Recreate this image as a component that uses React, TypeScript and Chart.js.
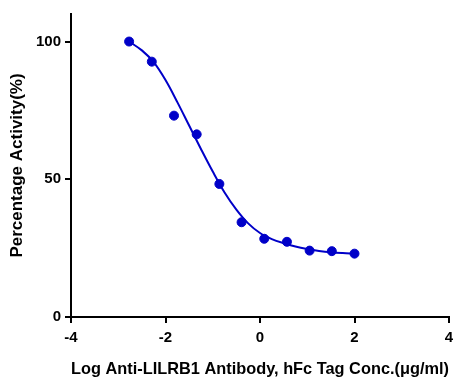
import React, { useEffect, useRef } from "react";
import { Chart, registerables } from "chart.js";

Chart.register(...registerables);

// Log concentration (3-fold dilutions)
const logConc = [-2.77, -2.29, -1.82, -1.34, -0.86, -0.39, 0.09, 0.57, 1.05, 1.52, 2.0];
const activity = [100, 92.7, 73.1, 66.3, 48.3, 34.4, 28.4, 27.3, 24.1, 23.9, 23.0];

// Fitted curve
const curveX = [-2.77, -2.5, -2.25, -2.0, -1.75, -1.5, -1.25, -1.0, -0.75, -0.5, -0.25, 0, 0.25, 0.5, 0.75, 1.0, 1.25, 1.5, 1.75, 2.0];
const curveY = [100, 96.8, 92.5, 86, 78, 69.5, 61, 52.8, 45.2, 39, 34, 30.5, 28.3, 26.8, 25.6, 24.7, 24.0, 23.5, 23.2, 23.0];

const xTicks = [-4, -2, 0, 2, 4];
const yTicks = [0, 50, 100];

const BLUE = "#0000C8";
const FONT = "'Liberation Sans', Arial, sans-serif";

export default function App() {
  const ref = useRef<HTMLCanvasElement | null>(null);

  useEffect(() => {
    if (!ref.current) return;
    const chart = new Chart(ref.current, {
      type: "scatter",
      data: {
        datasets: [
          {
            label: "curve",
            data: curveX.map((x, i) => ({ x, y: curveY[i] })),
            showLine: true,
            borderColor: BLUE,
            borderWidth: 2,
            pointRadius: 0,
            tension: 0.35,
          },
          {
            label: "data",
            data: logConc.map((x, i) => ({ x, y: activity[i] })),
            showLine: false,
            backgroundColor: BLUE,
            borderColor: BLUE,
            pointRadius: 4.5,
          },
        ],
      },
      options: {
        responsive: false,
        animation: false,
        layout: { padding: { left: 0, right: 7, top: 14, bottom: 0 } },
        plugins: { legend: { display: false }, tooltip: { enabled: false } },
        scales: {
          x: {
            type: "linear",
            min: -4,
            max: 4,
            afterBuildTicks: (s: any) => {
              s.ticks = xTicks.map((v) => ({ value: v }));
            },
            afterFit: (s: any) => {
              s.height = 63;
              s.paddingRight = 0;
              s.paddingLeft = 0;
            },
            grid: { drawOnChartArea: false, drawTicks: true, tickLength: 6, color: "#000", lineWidth: 2 },
            border: { color: "#000", width: 2 },
            ticks: {
              color: "#000",
              padding: 6,
              maxRotation: 0,
              font: { family: FONT, size: 15, weight: "bold" },
            },
            title: {
              display: true,
              text: "Log Anti-LILRB1 Antibody, hFc Tag Conc.(μg/ml)",
              color: "#000",
              font: { family: FONT, size: 17, weight: "bold" },
              padding: { top: 0, bottom: 0 },
            },
          },
          y: {
            type: "linear",
            min: 0,
            max: 110,
            afterBuildTicks: (s: any) => {
              s.ticks = yTicks.map((v) => ({ value: v }));
            },
            afterFit: (s: any) => {
              s.width = 71;
            },
            grid: { drawOnChartArea: false, drawTicks: true, tickLength: 6, color: "#000", lineWidth: 2 },
            border: { color: "#000", width: 2 },
            ticks: {
              color: "#000",
              padding: 4,
              font: { family: FONT, size: 15, weight: "bold" },
            },
            title: {
              display: true,
              text: "Percentage Activity(%)",
              color: "#000",
              font: { family: FONT, size: 17, weight: "bold" },
              padding: { top: 7, bottom: 0 },
            },
          },
        },
      },
    });
    return () => chart.destroy();
  }, []);

  return (
    <div style={{ position: "fixed", left: 0, top: 0, width: 456, height: 380, background: "#fff" }}>
      <canvas ref={ref} width={456} height={380} />
    </div>
  );
}
